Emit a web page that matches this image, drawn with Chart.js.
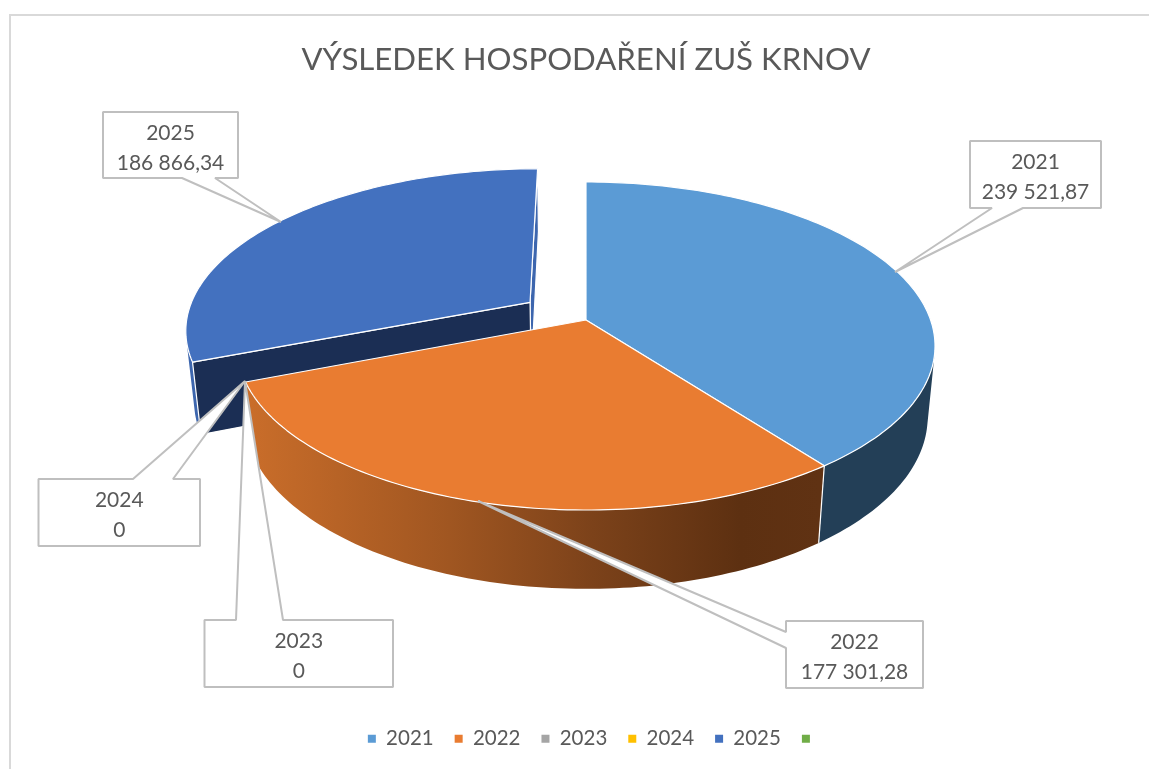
<!DOCTYPE html>
<html>
<head>
<meta charset="utf-8">
<title>Výsledek hospodaření ZUŠ Krnov</title>
<style>html,body{margin:0;padding:0;background:#fff}canvas{display:block}</style>
<script src="https://cdn.jsdelivr.net/npm/chart.js@4/dist/chart.umd.min.js"></script>
</head>
<body>
<canvas id="c" width="1149" height="769"></canvas>
<script>
const titleText = 'VÝSLEDEK HOSPODAŘENÍ ZUŠ KRNOV';
const categories = ['2021', '2022', '2023', '2024', '2025', ''];
const results = [239521.87, 177301.28, 0, 0, 186866.34, null];
const sliceColors = ['#5B9BD5', '#E97C31', '#A5A5A5', '#FFC000', '#4371BF', '#70AD47'];
const explodeFactors = [0, 0, 0, 0, 0.2, 0];

// Callout layout: box [left, top, right, bottom], tip point, wedge base on a box side
const callouts = [
  {i: 0, box: [970, 141, 1101, 208], tip: [895, 272], side: 'bottom', base: [992, 1023]},
  {i: 1, box: [786, 621, 923, 688], tip: [478, 501], side: 'left', base: [632, 648]},
  {i: 2, box: [204.5, 620, 393, 687], tip: [245, 381], side: 'top', base: [236, 283]},
  {i: 3, box: [38.5, 479, 200, 546], tip: [245, 381], side: 'top', base: [133, 173]},
  {i: 4, box: [103, 112, 238, 178], tip: [281, 222], side: 'bottom', base: [182, 215]}
];

// Perspective of the tilted pie
const CX = 586, CY = 320, B = 344.6, A = 159.9, P = 0.1585, DEPTH_Y = 72, DEPTH_W = 0.021;

function project(u, v, z) {
  const w = 1 + P * v + DEPTH_W * z;
  return [CX + B * u / w, CY + (-A * v + DEPTH_Y * z) / w];
}
function formatValue(n) {
  if (!n) return '0';
  const parts = n.toFixed(2).split('.');
  return parts[0].replace(/\B(?=(\d{3})+$)/g, ' ') + ',' + parts[1];
}
function rimPoints(th0, th1, ox, oy, z) {
  const pts = [], n = Math.max(2, Math.ceil(Math.abs(th1 - th0) / 0.02));
  for (let k = 0; k <= n; k++) {
    const t = th0 + (th1 - th0) * k / n;
    pts.push(project(Math.sin(t) + ox, Math.cos(t) + oy, z));
  }
  return pts;
}
function fillPath(ctx, pts, fill, edge) {
  ctx.beginPath();
  pts.forEach((p, k) => k ? ctx.lineTo(p[0], p[1]) : ctx.moveTo(p[0], p[1]));
  ctx.closePath();
  ctx.fillStyle = fill;
  ctx.fill();
  if (edge) {
    ctx.strokeStyle = '#fff';
    ctx.lineWidth = 1.2;
    ctx.lineJoin = 'round';
    ctx.stroke();
  }
}
// outer wall: only the front-facing run of the rim, closed by straight silhouette edges
function outerWall(ctx, top, bottom, fill) {
  let first = -1, last = -1;
  for (let k = 0; k + 1 < top.length; k++) {
    const ex = top[k + 1][0] - top[k][0], ey = top[k + 1][1] - top[k][1];
    const dx = bottom[k][0] - top[k][0], dy = bottom[k][1] - top[k][1];
    if (ex * dy - ey * dx < 0) {
      if (first < 0) first = k;
      last = k + 1;
    }
  }
  if (first < 0) return;
  fillPath(ctx, top.slice(first, last + 1).concat(bottom.slice(first, last + 1).reverse()), fill, false);
}
function whiteLine(ctx, a, b) {
  ctx.strokeStyle = '#fff';
  ctx.lineWidth = 1.2;
  ctx.beginPath();
  ctx.moveTo(a[0], a[1]);
  ctx.lineTo(b[0], b[1]);
  ctx.stroke();
}

const pie3d = {
  id: 'pie3d',
  beforeDraw(chart) {
    const ctx = chart.ctx;
    ctx.save();
    ctx.strokeStyle = '#d9d9d9';
    ctx.lineWidth = 2;
    ctx.beginPath();
    ctx.moveTo(10, 775);
    ctx.lineTo(10, 15);
    ctx.lineTo(1155, 15);
    ctx.stroke();
    ctx.restore();
  },
  afterLayout(chart) {
    chart.legend.left += 8;
    chart.legend.right += 8;
  },
  beforeDatasetsDraw(chart) {
    const ctx = chart.ctx, arcs = chart.getDatasetMeta(0).data;
    ctx.save();
    const slices = arcs.map((a, i) => {
      const th0 = a.startAngle + Math.PI / 2, th1 = a.endAngle + Math.PI / 2;
      const mid = (th0 + th1) / 2, d = explodeFactors[i];
      return {i, th0, th1, ox: d * Math.sin(mid), oy: d * Math.cos(mid), empty: !(th1 - th0 > 1e-4)};
    });
    const orange = ctx.createLinearGradient(250, 0, 820, 0);
    orange.addColorStop(0, '#C96D2A');
    orange.addColorStop(0.35, '#A05621');
    orange.addColorStop(0.6, '#7C421A');
    orange.addColorStop(0.86, '#5D3011');
    orange.addColorStop(1, '#603213');
    const wallColors = ['#233F57', orange, null, null, '#3D66AE', null];

    const drawn = slices.filter(s => !s.empty);
    const back = drawn.filter(s => explodeFactors[s.i] > 0);
    const front = drawn.filter(s => !(explodeFactors[s.i] > 0));

    back.forEach(s => {
      const {i, th0, th1, ox, oy} = s;
      const top = rimPoints(th0, th1, ox, oy, 0), bottom = rimPoints(th0, th1, ox, oy, 1);
      const apexT = project(ox, oy, 0), apexB = project(ox, oy, 1);
      outerWall(ctx, top, bottom, wallColors[i]);
      fillPath(ctx, [top[top.length - 1], bottom[bottom.length - 1], apexB, apexT], wallColors[i], true);
      fillPath(ctx, [top[0], bottom[0], apexB, apexT], '#1B2E54', true);
      fillPath(ctx, [apexT].concat(top), sliceColors[i], true);
    });
    front.forEach(s => {
      const {i, th0, th1, ox, oy} = s;
      outerWall(ctx, rimPoints(th0, th1, ox, oy, 0), rimPoints(th0, th1, ox, oy, 1), wallColors[i]);
    });
    front.slice(1).forEach(s => {
      whiteLine(ctx, project(Math.sin(s.th0), Math.cos(s.th0), 0), project(Math.sin(s.th0), Math.cos(s.th0), 1));
    });
    front.forEach(s => {
      const {i, th0, th1, ox, oy} = s;
      fillPath(ctx, [project(ox, oy, 0)].concat(rimPoints(th0, th1, ox, oy, 0)), sliceColors[i], true);
    });

    callouts.forEach(c => {
      const [l, t, r, b] = c.box, [tx, ty] = c.tip, [b0, b1] = c.base;
      ctx.beginPath();
      ctx.moveTo(l, t);
      if (c.side === 'top') { ctx.lineTo(b0, t); ctx.lineTo(tx, ty); ctx.lineTo(b1, t); }
      ctx.lineTo(r, t);
      ctx.lineTo(r, b);
      if (c.side === 'bottom') { ctx.lineTo(b1, b); ctx.lineTo(tx, ty); ctx.lineTo(b0, b); }
      ctx.lineTo(l, b);
      if (c.side === 'left') { ctx.lineTo(l, b1); ctx.lineTo(tx, ty); ctx.lineTo(l, b0); }
      ctx.closePath();
      ctx.fillStyle = '#fff';
      ctx.fill();
      ctx.strokeStyle = '#BFBFBF';
      ctx.lineWidth = 2;
      ctx.lineJoin = 'bevel';
      ctx.stroke();
      ctx.fillStyle = '#595959';
      ctx.font = '21px Lato';
      ctx.textAlign = 'center';
      ctx.textBaseline = 'middle';
      const mx = (l + r) / 2;
      ctx.fillText(categories[c.i], mx, t + 21);
      ctx.fillText(formatValue(results[c.i]), mx, t + 51);
    });
    ctx.restore();
    return false;
  }
};

new Chart(document.getElementById('c'), {
  type: 'pie',
  data: {
    labels: categories,
    datasets: [{data: results, backgroundColor: sliceColors, borderWidth: 0}]
  },
  options: {
    responsive: false,
    animation: false,
    events: [],
    layout: {padding: {left: 23, right: 0, top: 0, bottom: 10}},
    plugins: {
      title: {
        display: true,
        text: titleText,
        color: '#595959',
        font: {family: 'Lato', size: 31.2, weight: 'normal', lineHeight: 1.2},
        padding: {top: 41, bottom: 10}
      },
      legend: {
        position: 'bottom',
        labels: {
          boxWidth: 8,
          boxHeight: 8,
          padding: 21,
          color: '#595959',
          font: {family: 'Lato', size: 20.5}
        }
      },
      tooltip: {enabled: false}
    }
  },
  plugins: [pie3d]
});
</script>
</body>
</html>
